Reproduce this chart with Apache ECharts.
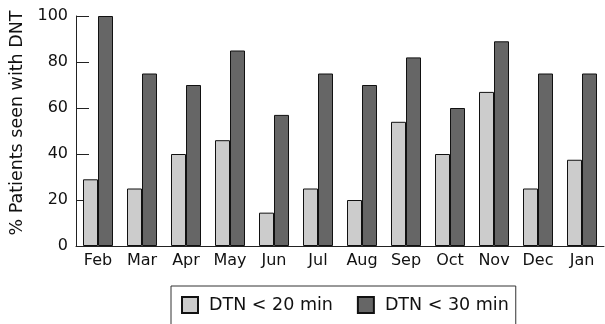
<!DOCTYPE html>
<html>
<head>
<meta charset="utf-8">
<script src="https://cdn.jsdelivr.net/npm/echarts@6/dist/echarts.min.js"></script>
<style>html,body{margin:0;padding:0;background:#fff}#c{width:605px;height:324px}</style>
</head>
<body>
<div id="c"></div>
<script>
var categories = ['Feb','Mar','Apr','May','Jun','Jul','Aug','Sep','Oct','Nov','Dec','Jan'];
var dtn20 = [29, 25, 40, 46, 14.5, 25, 20, 54, 40, 67, 25, 37.5];
var dtn30 = [100, 75, 70, 85, 57, 75, 70, 82, 60, 89, 75, 75];
var yTicks = [0, 20, 40, 60, 80, 100];
var seriesNames = ['DTN < 20 min', 'DTN < 30 min'];

var FONT = 'DejaVu Sans';
var chart = echarts.init(document.getElementById('c'));
chart.setOption({
  animation: false,
  textStyle: {fontFamily: FONT},
  grid: {left: 76, top: 16, right: 1, bottom: 78, containLabel: false},
  legend: {
    data: seriesNames,
    top: 286, left: 171,
    itemWidth: 16, itemHeight: 16, itemGap: 24,
    borderColor: '#333', borderWidth: 1,
    padding: [10, 7, 30, 10],
    textStyle: {fontSize: 17.5, color: '#111', fontFamily: FONT, padding: [0, 0, 0, 6]},
    icon: 'rect'
  },
  xAxis: {
    type: 'category',
    data: categories,
    axisLine: {lineStyle: {color: '#222', width: 1}},
    axisTick: {inside: true, length: 14, lineStyle: {color: '#222'}},
    axisLabel: {fontSize: 16, color: '#111', margin: 7, fontFamily: FONT}
  },
  yAxis: {
    type: 'value',
    min: yTicks[0], max: yTicks[yTicks.length - 1], interval: 20,
    name: '% Patients seen with DNT',
    nameLocation: 'middle', nameGap: 48,
    nameTextStyle: {fontSize: 17.5, color: '#111', fontFamily: FONT, padding: [0, 0, 0, 16]},
    axisLine: {show: true, lineStyle: {color: '#222', width: 1}},
    axisTick: {show: true, inside: true, length: 13, lineStyle: {color: '#222'}},
    axisLabel: {fontSize: 16, color: '#111', margin: 8, fontFamily: FONT},
    splitLine: {show: false}
  },
  series: [
    {name: seriesNames[0], type: 'bar', data: dtn20, barWidth: 15, barGap: '0%',
     itemStyle: {color: '#cccccc', borderColor: '#111', borderWidth: 1}},
    {name: seriesNames[1], type: 'bar', data: dtn30, barWidth: 15, barGap: '0%',
     itemStyle: {color: '#666666', borderColor: '#111', borderWidth: 1}}
  ]
});
</script>
</body>
</html>
